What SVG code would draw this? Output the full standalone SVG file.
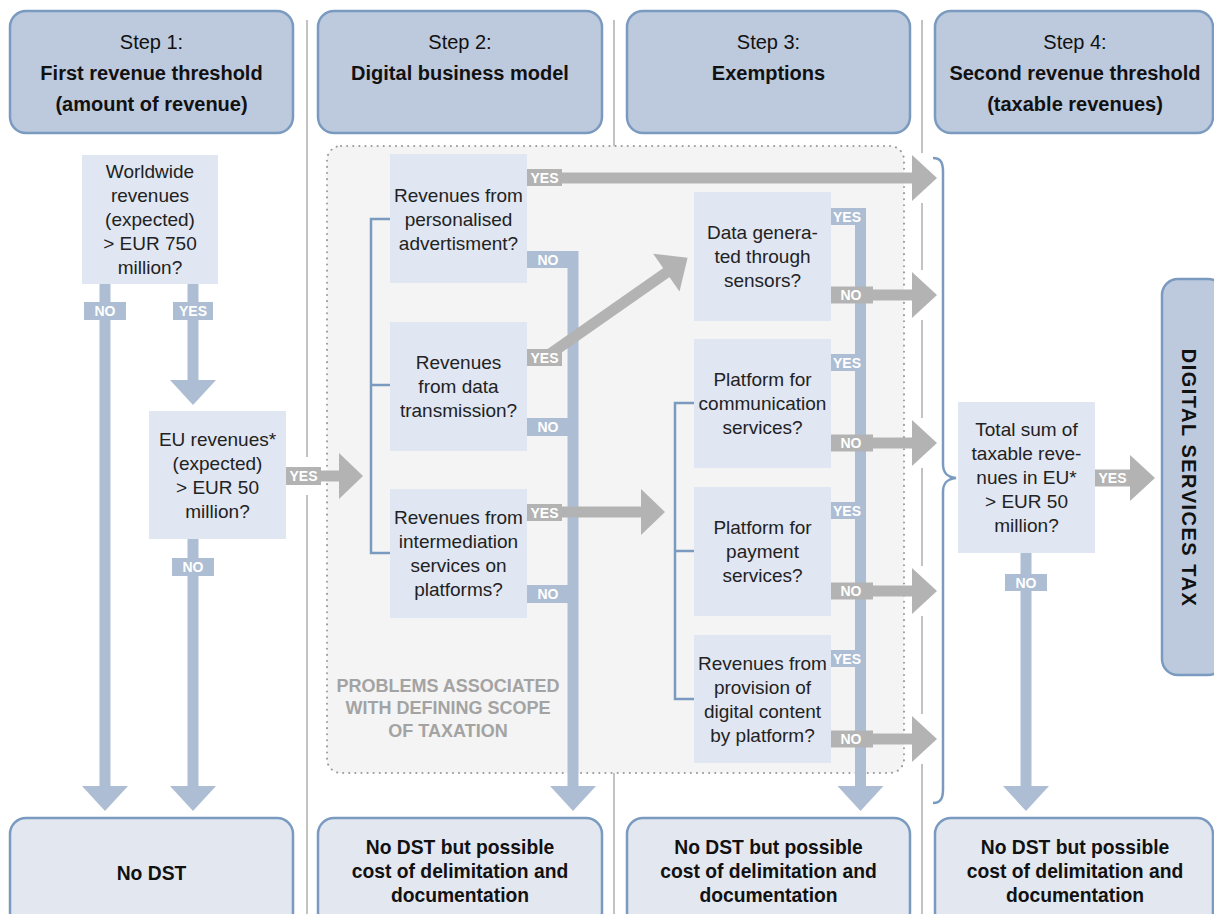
<svg xmlns="http://www.w3.org/2000/svg" width="1214" height="914" viewBox="0 0 1214 914">
<style>
text{font-family:"Liberation Sans",Arial,sans-serif}
.hdr{fill:#bdc9dc;stroke:#7a9bbf;stroke-width:2.5}
.bot{fill:#e3e7f0;stroke:#7a9bbf;stroke-width:2.5}
.node{fill:#e0e6f2}
.sep{stroke:#b0b0b0;stroke-width:1.5;fill:none}
.brk{stroke:#7a9bbf;stroke-width:2.5;fill:none}
.b{fill:#adbdd3}
.g{fill:#b3b3b3}
.ht{font-size:20px;fill:#111;text-anchor:middle}
.hb{font-size:20px;font-weight:bold;fill:#111;text-anchor:middle}
.bt{font-size:19.3px;font-weight:bold;fill:#111;text-anchor:middle}
.nt{font-size:19px;fill:#222;text-anchor:middle}
.lb{font-size:14px;font-weight:bold;fill:#fff;text-anchor:middle}
.pr{font-size:18px;font-weight:bold;fill:#a3a3a3;text-anchor:middle}
</style>

<g id="separators">
<path class="sep" d="M307 20V457M307 495V914"/>
<path class="sep" d="M614 20V163M614 193V290M614 322V498M614 527V914"/>
<path class="sep" d="M922 20V153M922 203V270M922 320V418M922 468V566M922 616V714M922 764V914"/>
</g>

<g id="scope-region">
<rect x="327" y="146" width="577" height="627" rx="14" fill="#f4f4f4" stroke="#9a9a9a" stroke-width="2" stroke-dasharray="0.1 6" stroke-linecap="round"/>
<text class="pr"><tspan x="448" y="692">PROBLEMS ASSOCIATED</tspan><tspan x="448" y="714">WITH DEFINING SCOPE</tspan><tspan x="448" y="737">OF TAXATION</tspan></text>
</g>

<g id="step1-header"><rect class="hdr" x="10" y="11" width="283" height="122" rx="16"/>
<text class="ht" x="151.5" y="49">Step 1:</text>
<text class="hb" x="151.5" y="80">First revenue threshold</text>
<text class="hb" x="151.5" y="111">(amount of revenue)</text></g>
<g id="step2-header"><rect class="hdr" x="318" y="11" width="284" height="122" rx="16"/>
<text class="ht" x="460" y="49">Step 2:</text>
<text class="hb" x="460" y="80">Digital business model</text></g>
<g id="step3-header"><rect class="hdr" x="627" y="11" width="283" height="122" rx="16"/>
<text class="ht" x="768.5" y="49">Step 3:</text>
<text class="hb" x="768.5" y="80">Exemptions</text></g>
<g id="step4-header"><rect class="hdr" x="935" y="11" width="278" height="122" rx="16"/>
<text class="ht" x="1075" y="49">Step 4:</text>
<text class="hb" x="1075" y="80">Second revenue threshold</text>
<text class="hb" x="1075" y="111">(taxable revenues)</text></g>

<g id="worldwide"><rect class="node" x="82" y="155" width="136" height="129"/>
<text class="nt"><tspan x="150" y="178">Worldwide</tspan><tspan x="150" y="202">revenues</tspan><tspan x="150" y="226">(expected)</tspan><tspan x="150" y="250">&gt; EUR 750</tspan><tspan x="150" y="274">million?</tspan></text></g>
<g id="eu-revenues"><rect class="node" x="149" y="411" width="137" height="128"/>
<text class="nt"><tspan x="217.5" y="445.5">EU revenues*</tspan><tspan x="217.5" y="469.5">(expected)</tspan><tspan x="217.5" y="493.5">&gt; EUR 50</tspan><tspan x="217.5" y="517.5">million?</tspan></text></g>
<g id="personalised"><rect class="node" x="390" y="154" width="137" height="129"/>
<text class="nt"><tspan x="458.5" y="201.5">Revenues from</tspan><tspan x="458.5" y="225.5">personalised</tspan><tspan x="458.5" y="249.5">advertisment?</tspan></text></g>
<g id="data-transmission"><rect class="node" x="390" y="322" width="137" height="129"/>
<text class="nt"><tspan x="458.5" y="369">Revenues</tspan><tspan x="458.5" y="393">from data</tspan><tspan x="458.5" y="417">transmission?</tspan></text></g>
<g id="intermediation"><rect class="node" x="390" y="489" width="137" height="129"/>
<text class="nt"><tspan x="458.5" y="524">Revenues from</tspan><tspan x="458.5" y="548">intermediation</tspan><tspan x="458.5" y="572">services on</tspan><tspan x="458.5" y="596">platforms?</tspan></text></g>
<g id="sensors"><rect class="node" x="694" y="192" width="137" height="129"/>
<text class="nt"><tspan x="762.5" y="239">Data genera-</tspan><tspan x="762.5" y="263">ted through</tspan><tspan x="762.5" y="287">sensors?</tspan></text></g>
<g id="communication"><rect class="node" x="694" y="339" width="137" height="129"/>
<text class="nt"><tspan x="762.5" y="386">Platform for</tspan><tspan x="762.5" y="410">communication</tspan><tspan x="762.5" y="434">services?</tspan></text></g>
<g id="payment"><rect class="node" x="694" y="487" width="137" height="129"/>
<text class="nt"><tspan x="762.5" y="534">Platform for</tspan><tspan x="762.5" y="558">payment</tspan><tspan x="762.5" y="582">services?</tspan></text></g>
<g id="digital-content"><rect class="node" x="694" y="635" width="137" height="128"/>
<text class="nt"><tspan x="762.5" y="669.5">Revenues from</tspan><tspan x="762.5" y="693.5">provision of</tspan><tspan x="762.5" y="717.5">digital content</tspan><tspan x="762.5" y="741.5">by platform?</tspan></text></g>
<g id="total-sum"><rect class="node" x="958" y="402" width="137" height="151"/>
<text class="nt"><tspan x="1026.5" y="436">Total sum of</tspan><tspan x="1026.5" y="460">taxable reve-</tspan><tspan x="1026.5" y="484">nues in EU*</tspan><tspan x="1026.5" y="508">&gt; EUR 50</tspan><tspan x="1026.5" y="532">million?</tspan></text></g>

<g id="dst"><rect class="hdr" x="1162" y="279" width="62" height="396" rx="16"/>
<text x="1189" y="478" transform="rotate(90 1189 478)" font-size="20" font-weight="bold" fill="#111" text-anchor="middle" dominant-baseline="central" letter-spacing="1.5">DIGITAL SERVICES TAX</text></g>

<g id="end1"><rect class="bot" x="10" y="818" width="283" height="110" rx="16"/>
<text class="bt" x="151.5" y="880">No DST</text></g>
<g id="end2"><rect class="bot" x="318" y="818" width="284" height="110" rx="16"/>
<text class="bt"><tspan x="460" y="854">No DST but possible</tspan><tspan x="460" y="878">cost of delimitation and</tspan><tspan x="460" y="902">documentation</tspan></text></g>
<g id="end3"><rect class="bot" x="627" y="818" width="283" height="110" rx="16"/>
<text class="bt"><tspan x="768.5" y="854">No DST but possible</tspan><tspan x="768.5" y="878">cost of delimitation and</tspan><tspan x="768.5" y="902">documentation</tspan></text></g>
<g id="end4"><rect class="bot" x="935" y="818" width="278" height="110" rx="16"/>
<text class="bt"><tspan x="1075" y="854">No DST but possible</tspan><tspan x="1075" y="878">cost of delimitation and</tspan><tspan x="1075" y="902">documentation</tspan></text></g>

<g id="connectors">
<path class="brk" d="M390 219H371V553H390M371 385H390"/>
<path class="brk" d="M694 403H675V699H694M675 551H694"/>
<path class="brk" d="M933 158C941 158 943 163 943 172V464C943 473 947 477 956 478C947 479 943 483 943 492V789C943 798 941 803 933 803"/>

<rect class="b" x="99.5" y="284" width="11" height="502"/>
<polygon class="b" points="82,786 128,786 105,811"/>
<rect class="b" x="84" y="302" width="42" height="18"/><text class="lb" x="105" y="316">NO</text>
<rect class="b" x="187.5" y="284" width="11" height="96"/>
<polygon class="b" points="170,380 216,380 193,405"/>
<rect class="b" x="173" y="302" width="40" height="18"/><text class="lb" x="193" y="316">YES</text>
<rect class="b" x="187.5" y="539" width="11" height="247"/>
<polygon class="b" points="170,786 216,786 193,811"/>
<rect class="b" x="172" y="558" width="42" height="18"/><text class="lb" x="193" y="572">NO</text>
<rect class="g" x="286" y="470.5" width="54" height="11"/>
<polygon class="g" points="339,453 363,476 339,499"/>
<rect class="g" x="286" y="467" width="35" height="18"/><text class="lb" x="303.5" y="481">YES</text>

<rect class="b" x="567.5" y="251" width="11" height="535"/>
<polygon class="b" points="550,786 596,786 573,811"/>
<rect class="b" x="527" y="251" width="42" height="17"/><text class="lb" x="548" y="264.5">NO</text>
<rect class="b" x="527" y="418" width="42" height="18"/><text class="lb" x="548" y="432">NO</text>
<rect class="b" x="527" y="585" width="42" height="18"/><text class="lb" x="548" y="599">NO</text>
<rect class="g" x="560" y="172.5" width="354" height="11"/>
<polygon class="g" points="912,155 937,178 912,201"/>
<rect class="g" x="527" y="169" width="35" height="17"/><text class="lb" x="544.5" y="182.5">YES</text>
<g transform="translate(550 354) rotate(-35)"><rect class="g" x="0" y="-5.5" width="144" height="11"/><polygon class="g" points="142,-23 168,0 142,23"/></g>
<rect class="g" x="527" y="349" width="35" height="17"/><text class="lb" x="544.5" y="362.5">YES</text>
<rect class="g" x="560" y="506.5" width="84" height="11"/>
<polygon class="g" points="641,489 665,512 641,535"/>
<rect class="g" x="527" y="504" width="35" height="17"/><text class="lb" x="544.5" y="517.5">YES</text>

<rect class="b" x="855" y="208" width="11" height="578"/>
<polygon class="b" points="837.5,786 883.5,786 860.5,811"/>
<rect class="b" x="831" y="208" width="30" height="17"/><text class="lb" x="847" y="221.5">YES</text>
<rect class="b" x="831" y="354" width="30" height="17"/><text class="lb" x="847" y="367.5">YES</text>
<rect class="b" x="831" y="502" width="30" height="17"/><text class="lb" x="847" y="515.5">YES</text>
<rect class="b" x="831" y="650" width="30" height="17"/><text class="lb" x="847" y="663.5">YES</text>
<rect class="g" x="831" y="286.5" width="42" height="17"/><rect class="g" x="870" y="289.5" width="44" height="11"/><polygon class="g" points="912,272 937,295 912,318"/><text class="lb" x="851" y="300">NO</text>
<rect class="g" x="831" y="434.5" width="42" height="17"/><rect class="g" x="870" y="437.5" width="44" height="11"/><polygon class="g" points="912,420 937,443 912,466"/><text class="lb" x="851" y="448">NO</text>
<rect class="g" x="831" y="582.5" width="42" height="17"/><rect class="g" x="870" y="585.5" width="44" height="11"/><polygon class="g" points="912,568 937,591 912,614"/><text class="lb" x="851" y="596">NO</text>
<rect class="g" x="831" y="730.5" width="42" height="17"/><rect class="g" x="870" y="733.5" width="44" height="11"/><polygon class="g" points="912,716 937,739 912,762"/><text class="lb" x="851" y="744">NO</text>

<rect class="g" x="1095" y="469.5" width="37" height="17"/>
<polygon class="g" points="1130,455 1155,478 1130,501"/>
<text class="lb" x="1112.5" y="483">YES</text>
<rect class="b" x="1020.5" y="553" width="11" height="233"/>
<polygon class="b" points="1003,786 1049,786 1026,811"/>
<rect class="b" x="1005" y="574" width="42" height="17"/><text class="lb" x="1026" y="587.5">NO</text>
</g>
</svg>
